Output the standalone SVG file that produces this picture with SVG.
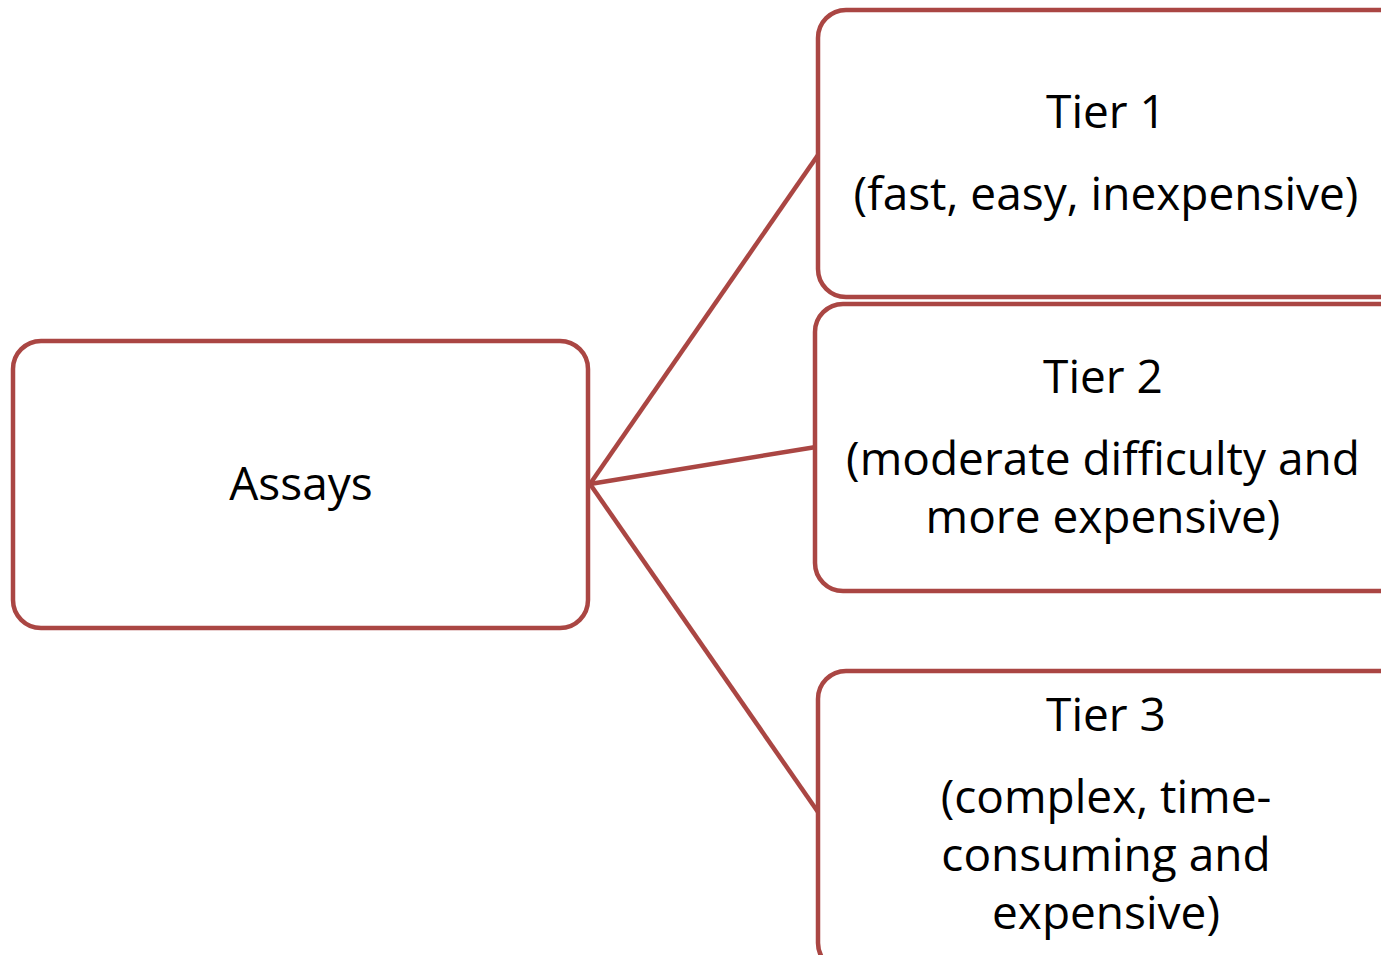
<svg xmlns="http://www.w3.org/2000/svg" width="1381" height="955" viewBox="0 0 1381 955">
  <style>
    .box { fill: #ffffff; stroke: #AA4643; stroke-width: 4.5; }
    .link { fill: none; stroke: #AA4643; stroke-width: 4.5; }
    .label { font-family: "Open Sans", "Noto Sans", sans-serif; font-size: 46px; fill: #000000; text-anchor: middle; }
  </style>
  <rect width="1381" height="955" fill="#ffffff"/>

  <!-- connectors from the root box to each tier -->
  <g id="connectors">
    <line class="link" x1="590" y1="484" x2="818" y2="155"/>
    <line class="link" x1="590" y1="484" x2="816" y2="447"/>
    <line class="link" x1="590" y1="484" x2="818" y2="812"/>
  </g>

  <g id="assays">
    <rect class="box" x="13" y="341" width="575" height="287" rx="28" ry="28"/>
    <text class="label" x="301" y="500">Assays</text>
  </g>

  <g id="tier1">
    <rect class="box" x="818" y="10" width="600" height="287" rx="28" ry="28"/>
    <text class="label" x="1106" y="128">Tier 1</text>
    <text class="label" x="1106" y="210">(fast, easy, inexpensive)</text>
  </g>

  <g id="tier2">
    <rect class="box" x="815" y="304" width="600" height="287" rx="28" ry="28"/>
    <text class="label" x="1103" y="393">Tier 2</text>
    <text class="label" x="1103" y="475">(moderate difficulty and</text>
    <text class="label" x="1103" y="533">more expensive)</text>
  </g>

  <g id="tier3">
    <rect class="box" x="818" y="671" width="600" height="300" rx="28" ry="28"/>
    <text class="label" x="1106" y="731">Tier 3</text>
    <text class="label" x="1106" y="813">(complex, time-</text>
    <text class="label" x="1106" y="871">consuming and</text>
    <text class="label" x="1106" y="929">expensive)</text>
  </g>
</svg>
